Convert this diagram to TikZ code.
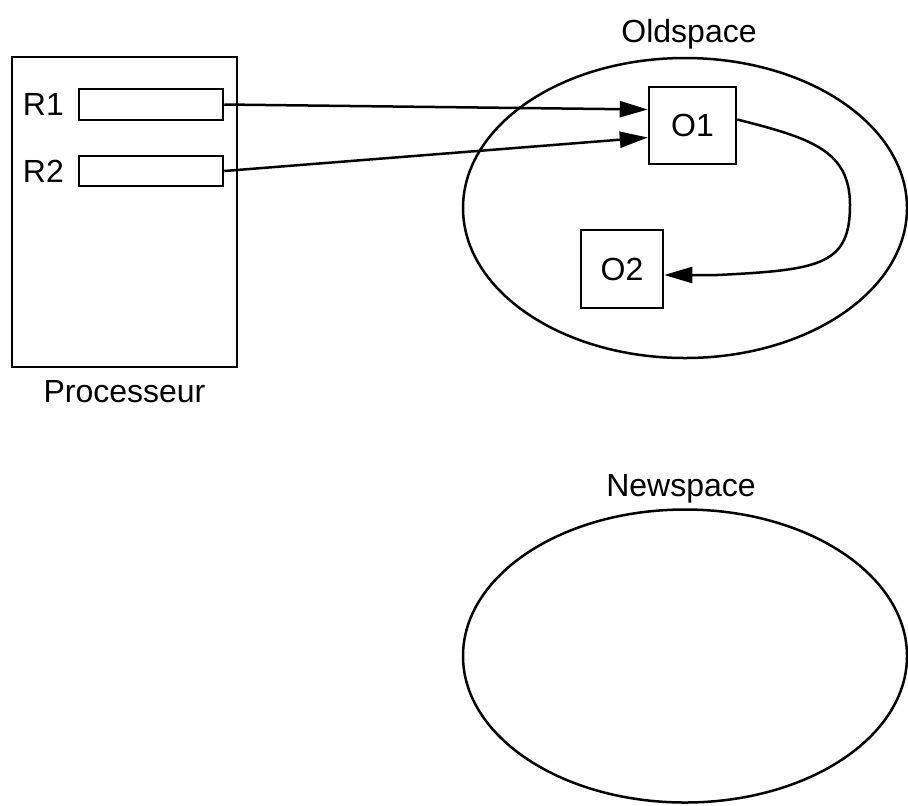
\documentclass[tikz,border=0pt]{standalone}
\usepackage{fontspec}
\setmainfont{Liberation Sans}
\usetikzlibrary{arrows.meta,shapes.geometric,positioning}

\begin{document}
\begin{tikzpicture}[x=0.5pt,y=-0.5pt,line width=1.25pt,
		every node/.style={font=\fontsize{16pt}{19pt}\selectfont}]
		\useasboundingbox (0,0) rectangle (908,805);

		\begin{scope}[every node/.append style={draw,rectangle,inner sep=0pt}]
			\node[minimum width=112.5pt,minimum height=155pt] (proc) at (124.5,212) {};
			\node[minimum width=72pt,minimum height=15.5pt] (r1) at (151,104.5) {};
			\node[minimum width=72pt,minimum height=15pt] (r2) at (151,171) {};
			\node[minimum width=43.5pt,minimum height=38.5pt] (o1) at (692.5,125.5) {O1};
			\node[minimum width=41pt,minimum height=39pt] (o2) at (622,269) {O2};
		\end{scope}

		\begin{scope}[every node/.append style={draw,ellipse,inner sep=0pt}]
			\node[minimum width=222pt,minimum height=150pt] (old) at (685,208) {};
			\node[minimum width=222pt,minimum height=146.5pt] (new) at (685,656) {};
		\end{scope}

		\node[left=3pt of r1] (r1lbl) {R1};
		\node[left=3pt of r2] (r2lbl) {R2};
		\node[below=2pt of proc] (proclbl) {Processeur};
		\node[above=0pt of old,xshift=2pt] (oldlbl) {Oldspace};
		\node[above=-1.5pt of new,xshift=-2pt] (newlbl) {Newspace};

		\coordinate (bend) at (850,205);
		\begin{scope}[>={Triangle[length=14pt,width=8pt]}]
			\draw[->] (r1.east) -- ([yshift=8pt]o1.west);
			\draw[->] (r2.east) -- ([yshift=-6pt]o1.west);
			\draw[->] ([yshift=3pt]o1.east) .. controls (810,138) and (850,150) .. (bend)
				.. controls (850,265) and (820,270) .. (717,275) -- ([yshift=-3pt]o2.east);
		\end{scope}
	\end{tikzpicture}
\end{document}
